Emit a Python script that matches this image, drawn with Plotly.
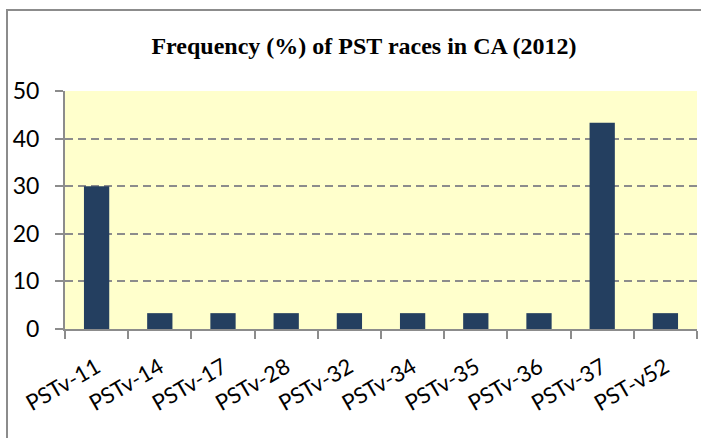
import plotly.graph_objects as go

categories = ["PSTv-11", "PSTv-14", "PSTv-17", "PSTv-28", "PSTv-32",
              "PSTv-34", "PSTv-35", "PSTv-36", "PSTv-37", "PST-v52"]
frequency = [30.0, 3.33, 3.33, 3.33, 3.33, 3.33, 3.33, 3.33, 43.33, 3.33]
y_ticks = [0, 10, 20, 30, 40, 50]

W, H = 701, 438
L, R, T, B = 65, 4, 91, 109
pw, ph = W - L - R, H - T - B

fig = go.Figure(go.Bar(
    x=categories, y=frequency,
    marker=dict(color="#243F60", line=dict(width=0)),
    width=0.4,
))

fig.update_layout(
    width=W, height=H,
    margin=dict(l=L, r=R, t=T, b=B, autoexpand=False),
    paper_bgcolor="white",
    plot_bgcolor="#FFFFCC",
    showlegend=False,
    title=dict(text="<b>Frequency (%) of PST races in CA (2012)</b>",
               x=364 / W, xanchor="center", y=1 - 46 / H, yanchor="middle",
               font=dict(family="Liberation Serif", size=24, color="black")),
    font=dict(family="Lato", color="black"),
    xaxis=dict(
        type="category", tickangle=-30, tickfont=dict(size=22, family="Lato"),
        automargin=False, ticklabelstandoff=15,
        showline=True, linecolor="#8C8C8C", linewidth=2,
        ticks="outside", tickson="boundaries", ticklen=8, tickcolor="#8C8C8C", tickwidth=2,
        showgrid=False, range=[-0.5, 9.5],
    ),
    yaxis=dict(
        range=[0, 50], tickvals=y_ticks, tickfont=dict(size=23, family="Lato"),
        automargin=False, ticklabelstandoff=11,
        showline=True, linecolor="#8C8C8C", linewidth=2,
        ticks="outside", ticklen=8, tickcolor="#8C8C8C", tickwidth=2,
        showgrid=True, gridcolor="#8C8C8C", gridwidth=2, griddash="8px,5px",
        zeroline=False,
    ),
    shapes=[dict(
        type="rect", xref="paper", yref="paper",
        x0=(7 - L) / pw, x1=(W + 5 - L) / pw,
        y0=-(H + 5 - T - ph) / ph, y1=1 + (T - 10) / ph,
        line=dict(color="#8C8C8C", width=2), fillcolor="rgba(0,0,0,0)", layer="below",
    )],
)

fig.write_html("out.html", config={"displayModeBar": False},
               post_script="document.body.style.margin='0';")
